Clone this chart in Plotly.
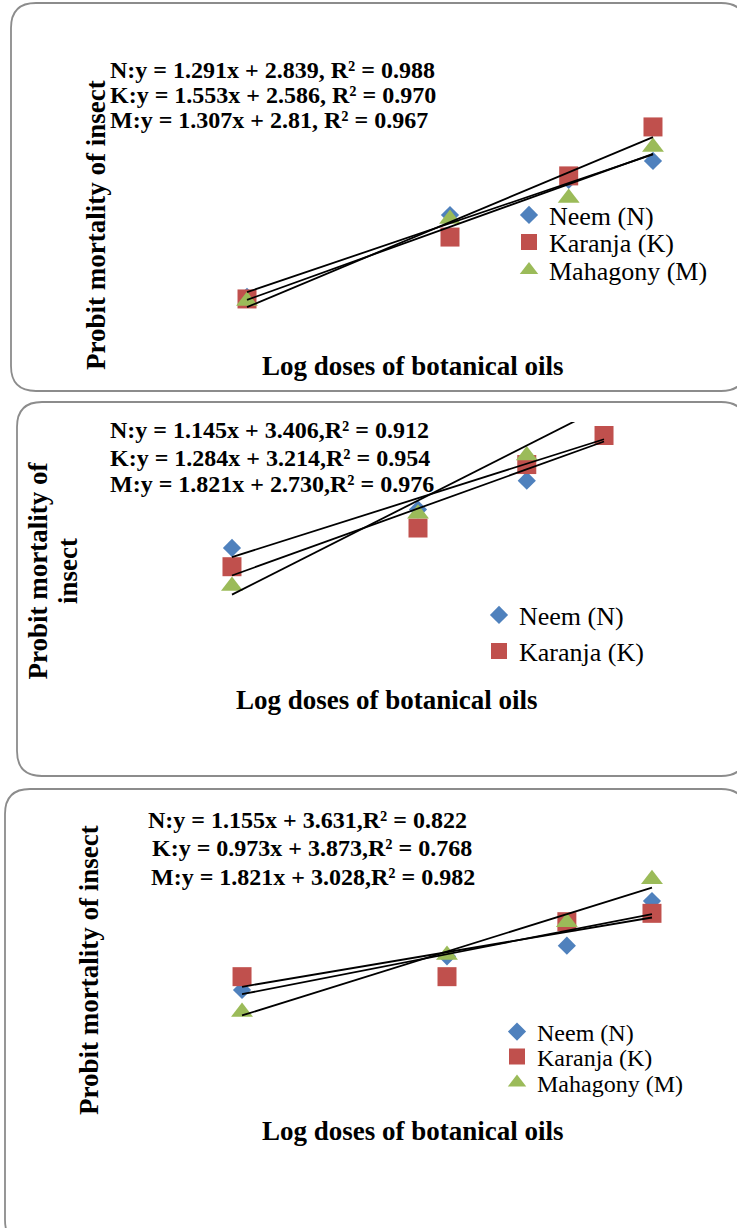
import numpy as np
import plotly.graph_objects as go

# ---------------- data ----------------
SERIES = ["Neem (N)", "Karanja (K)", "Mahagony (M)"]
COLORS = ["#4F81BD", "#C0504D", "#9BBB59"]
SYMBOLS = ["diamond", "square", "triangle-up"]

# log doses of botanical oils
X_P1 = [1.0, 1.301, 1.477, 1.602]
X_P2 = [0.699, 1.0, 1.176, 1.301]
X_P3 = [0.699, 1.0, 1.176, 1.301]

# probit mortality of insect
P1_N = [4.127, 4.577, 4.770, 4.874]
P1_K = [4.116, 4.456, 4.792, 5.061]
P1_M = [4.105, 4.555, 4.671, 4.951]

P2_N = [4.262, 4.486, 4.653, 5.005]
P2_K = [4.153, 4.378, 4.747, 4.916]
P2_M = [4.041, 4.461, 4.799, 5.170]

P3_N = [4.510, 4.800, 4.892, 5.277]
P3_K = [4.625, 4.625, 5.099, 5.171]
P3_M = [4.320, 4.812, 5.094, 5.464]

EQ_P1 = ["N:y = 1.291x + 2.839, R² = 0.988",
         "K:y = 1.553x + 2.586, R² = 0.970",
         "M:y = 1.307x + 2.81, R² = 0.967"]
EQ_P2 = ["N:y = 1.145x + 3.406,R² = 0.912",
         "K:y = 1.284x + 3.214,R² = 0.954",
         "M:y = 1.821x + 2.730,R² = 0.976"]
EQ_P3 = ["N:y = 1.155x + 3.631,R² = 0.822",
         "K:y = 0.973x + 3.873,R² = 0.768",
         "M:y = 1.821x + 3.028,R² = 0.982"]

X_TITLE = "Log doses of botanical oils"
Y_TITLE = "Probit mortality of insect"

# ---------------- layout helpers ----------------
W, H = 737, 1228
def px(p):
    return p / W
def py(p):
    return 1 - p / H

SERIF = "Liberation Serif"

panels = [
    dict(x=X_P1, ys=[P1_N, P1_K, P1_M], eq=EQ_P1,
         xdom=(200, 700), xr=(0.9303, 1.6717), ydom=(110, 340), yr=(3.8905, 5.154),
         box=(11, 3, 746, 391),
         eqx=[108, 108, 108], eqy=[70, 95, 120],
         xt=(413, 366), yt=[(96, 225, Y_TITLE)],
         leg_x=549, leg_y=[215, 242, 270], leg_show=[True, True, True], leg_fs=26),
    dict(x=X_P2, ys=[P2_N, P2_K, P2_M], eq=EQ_P2,
         xdom=(180, 700), xr=(0.6149, 1.4563), ydom=(421.9, 700), yr=(3.378, 4.995),
         box=(17, 402, 746, 776),
         eqx=[108, 108, 108], eqy=[430, 458, 484],
         xt=(387, 700), yt=[(37.5, 571, "Probit mortality of"), (68, 571, "insect")],
         leg_x=519, leg_y=[615, 651, None], leg_show=[True, True, False], leg_fs=26),
    dict(x=X_P3, ys=[P3_N, P3_K, P3_M], eq=EQ_P3,
         xdom=(190, 710), xr=(0.6226, 1.3862), ydom=(850, 1090), yr=(3.648, 5.717),
         box=(5, 789, 746, 1245),
         eqx=[146, 150, 149], eqy=[820, 848, 877],
         xt=(413, 1131), yt=[(89, 970, Y_TITLE)],
         leg_x=537, leg_y=[1032, 1057, 1083], leg_show=[True, True, True], leg_fs=24),
]

fig = go.Figure()
shapes = []
annotations = []
layout_extra = {}
legend_count = 0

def rrect(l, t, r, b, rad=25):
    L, R = px(l), px(r)
    T, B = py(t), py(b)
    rx, ry = rad / W, rad / H
    return (f"M {L+rx},{T} L {R-rx},{T} Q {R},{T} {R},{T-ry} "
            f"L {R},{B+ry} Q {R},{B} {R-rx},{B} L {L+rx},{B} "
            f"Q {L},{B} {L},{B+ry} L {L},{T-ry} Q {L},{T} {L+rx},{T} Z")

for i, p in enumerate(panels):
    ax = "" if i == 0 else str(i + 1)
    xa, ya = "x" + ax, "y" + ax
    layout_extra["xaxis" + ax] = dict(domain=[px(p["xdom"][0]), px(p["xdom"][1])],
                                     range=list(p["xr"]), anchor=ya,
                                     visible=False, fixedrange=True)
    layout_extra["yaxis" + ax] = dict(domain=[py(p["ydom"][1]), py(p["ydom"][0])],
                                     range=list(p["yr"]), anchor=xa,
                                     visible=False, fixedrange=True)
    # markers
    for s in range(3):
        lg = None
        show = p["leg_show"][s]
        if show:
            legend_count += 1
            lg = "legend" if legend_count == 1 else f"legend{legend_count}"
            layout_extra[lg] = dict(
                x=px(p["leg_x"] - 40), y=py(p["leg_y"][s]),
                xanchor="left", yanchor="middle",
                bgcolor="rgba(0,0,0,0)", borderwidth=0,
                font=dict(family=SERIF, size=p["leg_fs"], color="#000000"),
                itemsizing="trace")
        clip = (i == 1 and s == 2)
        fig.add_trace(go.Scatter(
            x=p["x"], y=p["ys"][s], mode="markers", name=SERIES[s],
            xaxis=xa, yaxis=ya,
            marker=dict(symbol=SYMBOLS[s], color=COLORS[s],
                        size=[14, 19, 19][s], line=dict(width=0)),
            cliponaxis=clip, showlegend=show,
            **({"legend": lg} if show else {}),
            hoverinfo="x+y"))
    # linear trendlines (least squares on each series)
    for s in range(3):
        xv = np.array(p["x"])
        coef = np.polyfit(xv, np.array(p["ys"][s]), 1)
        xs = np.array([xv.min(), xv.max()])
        fig.add_trace(go.Scatter(
            x=xs, y=np.polyval(coef, xs), mode="lines", xaxis=xa, yaxis=ya,
            line=dict(color="#000000", width=1.8), showlegend=False,
            hoverinfo="skip"))
    # equations
    for k in range(3):
        annotations.append(dict(
            x=px(p["eqx"][k]), y=py(p["eqy"][k]), xref="paper", yref="paper",
            xanchor="left", yanchor="middle", showarrow=False,
            text=f"<b>{p['eq'][k]}</b>",
            font=dict(family=SERIF, size=24, color="#000000")))
    # axis titles
    annotations.append(dict(
        x=px(p["xt"][0]), y=py(p["xt"][1]), xref="paper", yref="paper",
        xanchor="center", yanchor="middle", showarrow=False,
        text=f"<b>{X_TITLE}</b>",
        font=dict(family=SERIF, size=27, color="#000000")))
    for (tx, ty, txt) in p["yt"]:
        annotations.append(dict(
            x=px(tx), y=py(ty), xref="paper", yref="paper",
            xanchor="center", yanchor="middle", showarrow=False, textangle=-90,
            text=f"<b>{txt}</b>",
            font=dict(family=SERIF, size=27, color="#000000")))
    # rounded panel border
    shapes.append(dict(type="path", xref="paper", yref="paper",
                       path=rrect(*p["box"]),
                       line=dict(color="#8C8C8C", width=1.8),
                       fillcolor="rgba(0,0,0,0)", layer="below"))

fig.update_layout(
    width=W, height=H, margin=dict(l=0, r=0, t=0, b=0),
    font=dict(family=SERIF, color="#000000"),
    paper_bgcolor="#FFFFFF", plot_bgcolor="rgba(0,0,0,0)",
    shapes=shapes, annotations=annotations, showlegend=True,
    **layout_extra)

fig.write_html("out.html", config={"displayModeBar": False},
               post_script="document.body.style.margin='0px';")
